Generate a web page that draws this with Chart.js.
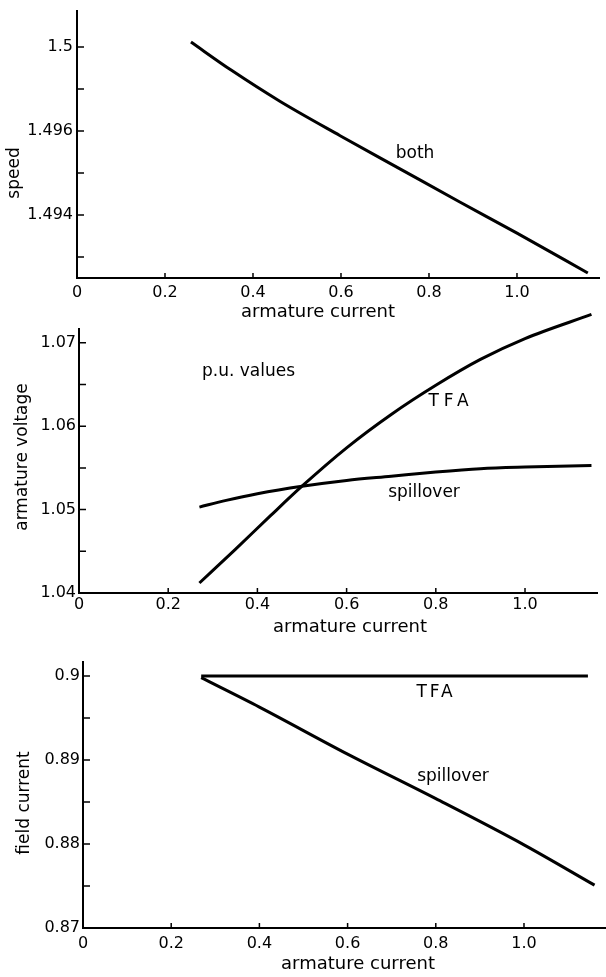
<!DOCTYPE html>
<html>
<head>
<meta charset="utf-8">
<title>armature current curves</title>
<script src="https://cdn.jsdelivr.net/npm/chart.js@4.4.1/dist/chart.umd.min.js"></script>
<style>
  html, body { margin: 0; padding: 0; background: #fff; }
  body { width: 606px; height: 977px; position: relative; overflow: hidden; }
  canvas { position: absolute; left: 0; }
</style>
</head>
<body>
<canvas id="speed" width="606" height="320" style="top:0"></canvas>
<canvas id="voltage" width="606" height="340" style="top:300px"></canvas>
<canvas id="field" width="606" height="337" style="top:640px"></canvas>
<script>
// x axis, shared by the three panels
const currentTicks = [0, 0.2, 0.4, 0.6, 0.8, 1.0];
const currentTickLabels = ['0', '0.2', '0.4', '0.6', '0.8', '1.0'];

// top panel: speed (both schemes give the same curve)
const speedX = [0.259, 0.352, 0.461, 0.598, 0.734, 0.87, 1.0, 1.161];
const speedBoth = [1.49812, 1.49744, 1.49671, 1.49589, 1.4951, 1.49431, 1.49357, 1.49262];
const speedTicks = [1.493, 1.494, 1.495, 1.496, 1.497, 1.498];
const speedTickLabels = ['', '1.494', '', '1.496', '', '1.5'];

// middle panel: armature voltage
const voltTfaX = [0.27, 0.35, 0.43, 0.5, 0.6, 0.7, 0.8, 0.9, 1.0, 1.149];
const voltTfa = [1.0412, 1.0452, 1.0493, 1.0528, 1.0574, 1.0614, 1.0649, 1.068, 1.0705, 1.0734];
const voltSpillX = [0.27, 0.33, 0.4, 0.5, 0.6, 0.7, 0.8, 0.9, 1.0, 1.149];
const voltSpill = [1.0503, 1.0511, 1.0519, 1.0528, 1.0535, 1.054, 1.0545, 1.0549, 1.0551, 1.0553];
const voltTicks = [1.04, 1.045, 1.05, 1.055, 1.06, 1.065, 1.07];
const voltTickLabels = ['1.04', '', '1.05', '', '1.06', '', '1.07'];

// bottom panel: field current
const fieldTfaX = [0.268, 0.6, 1.145];
const fieldTfa = [0.9, 0.9, 0.9];
const fieldSpillX = [0.268, 0.4, 0.6, 0.8, 1.0, 1.16];
const fieldSpill = [0.8998, 0.8963, 0.8907, 0.8854, 0.8799, 0.8751];
const fieldTicks = [0.87, 0.875, 0.88, 0.885, 0.89, 0.895, 0.9];
const fieldTickLabels = ['0.87', '', '0.88', '', '0.89', '', '0.9'];

const FONT = '"DejaVu Sans", sans-serif';

function pts(xs, ys) {
  return xs.map((x, i) => ({ x: x, y: ys[i] }));
}

// inward tick marks + free text on the canvas
const annotPlugin = {
  id: 'annot',
  afterDraw(chart, args, opts) {
    const ctx = chart.ctx;
    const { left, bottom } = chart.chartArea;
    const xs = chart.scales.x, ys = chart.scales.y;
    ctx.save();
    ctx.strokeStyle = '#000';
    ctx.lineWidth = 1.5;
    ctx.beginPath();
    ys.ticks.forEach(t => {
      if (t.value === ys.min) return;
      const py = ys.getPixelForValue(t.value);
      ctx.moveTo(left, py);
      ctx.lineTo(left + 7, py);
    });
    xs.ticks.forEach(t => {
      if (t.value === xs.min) return;
      const px = xs.getPixelForValue(t.value);
      ctx.moveTo(px, bottom);
      ctx.lineTo(px, bottom - 5);
    });
    ctx.stroke();

    ctx.fillStyle = '#000';
    ctx.textBaseline = 'middle';
    (opts.texts || []).forEach(t => {
      ctx.save();
      ctx.font = (t.size || 17) + 'px ' + FONT;
      ctx.letterSpacing = (t.spacing || 0) + 'px';
      ctx.textAlign = t.align || 'center';
      ctx.translate(t.x, t.y);
      if (t.rotate) ctx.rotate(-Math.PI / 2);
      ctx.fillText(t.text, 0, 0);
      ctx.restore();
    });
    ctx.restore();
  }
};

function makePanel(id, cfg) {
  const lineStyle = {
    showLine: true,
    borderColor: '#000',
    borderWidth: 3,
    pointRadius: 0,
    cubicInterpolationMode: 'monotone',
    fill: false,
    clip: false
  };
  return new Chart(document.getElementById(id), {
    type: 'scatter',
    data: {
      datasets: cfg.series.map(s => Object.assign({ label: s.label, data: s.data }, lineStyle))
    },
    plugins: [annotPlugin],
    options: {
      responsive: false,
      animation: false,
      events: [],
      layout: { padding: { top: cfg.padTop, right: cfg.padRight, left: 0, bottom: 0 } },
      plugins: {
        legend: { display: false },
        tooltip: { enabled: false },
        annot: { texts: cfg.texts }
      },
      scales: {
        x: {
          type: 'linear',
          min: 0,
          max: cfg.xMax,
          grid: { display: false, drawTicks: false },
          border: { display: true, color: '#000', width: 2 },
          afterBuildTicks: scale => { scale.ticks = currentTicks.map(v => ({ value: v })); },
          afterFit: scale => {
            scale.height = cfg.xHeight;
            scale.paddingLeft = 0;
            scale.paddingRight = 0;
          },
          ticks: {
            autoSkip: false,
            maxRotation: 0,
            padding: cfg.xPad,
            color: '#000',
            font: { family: FONT, size: 16 },
            callback: (v, i) => currentTickLabels[i]
          }
        },
        y: {
          type: 'linear',
          min: cfg.yMin,
          max: cfg.yMax,
          grid: { display: false, drawTicks: false },
          border: { display: true, color: '#000', width: 2 },
          afterBuildTicks: scale => { scale.ticks = cfg.yTicks.map(v => ({ value: v })); },
          afterFit: scale => {
            scale.width = cfg.yWidth;
            scale.paddingTop = 0;
            scale.paddingBottom = 0;
          },
          ticks: {
            autoSkip: false,
            padding: cfg.yPad,
            color: '#000',
            font: { family: FONT, size: 16 },
            callback: (v, i) => cfg.yTickLabels[i]
          }
        }
      }
    }
  });
}

makePanel('speed', {
  series: [{ label: 'both', data: pts(speedX, speedBoth) }],
  yMin: 1.4925, yMax: 1.49886, yTicks: speedTicks, yTickLabels: speedTickLabels,
  xMax: 1.1864,
  padTop: 11, padRight: 7, yWidth: 77, xHeight: 42, xPad: 5, yPad: 4,
  texts: [
    { text: 'both', x: 415, y: 154 },
    { text: 'armature current', x: 318, y: 312, size: 18 },
    { text: 'speed', x: 15, y: 173, size: 17, rotate: true }
  ]
});

// canvas starts at y=300 so the TFA curve can run above the axis top
makePanel('voltage', {
  series: [
    { label: 'TFA', data: pts(voltTfaX, voltTfa) },
    { label: 'spillover', data: pts(voltSpillX, voltSpill) }
  ],
  yMin: 1.04, yMax: 1.07165, yTicks: voltTicks, yTickLabels: voltTickLabels,
  xMax: 1.1614,
  padTop: 29, padRight: 9, yWidth: 79, xHeight: 47, xPad: 2, yPad: 3,
  texts: [
    { text: 'p.u. values', x: 202, y: 72, align: 'left' },
    { text: 'TFA', x: 451, y: 102, spacing: 5 },
    { text: 'spillover', x: 424, y: 193 },
    { text: 'armature current', x: 350, y: 327, size: 18 },
    { text: 'armature voltage', x: 23, y: 157, size: 17, rotate: true }
  ]
});

makePanel('field', {
  series: [
    { label: 'TFA', data: pts(fieldTfaX, fieldTfa) },
    { label: 'spillover', data: pts(fieldSpillX, fieldSpill) }
  ],
  yMin: 0.87, yMax: 0.90167, yTicks: fieldTicks, yTickLabels: fieldTickLabels,
  xMax: 1.1837,
  padTop: 22, padRight: 1, yWidth: 83, xHeight: 49, xPad: 6, yPad: 3,
  texts: [
    { text: 'TFA', x: 436, y: 53, spacing: 3 },
    { text: 'spillover', x: 453, y: 137 },
    { text: 'armature current', x: 358, y: 324, size: 18 },
    { text: 'field current', x: 25, y: 163, size: 17, rotate: true }
  ]
});
</script>
</body>
</html>
